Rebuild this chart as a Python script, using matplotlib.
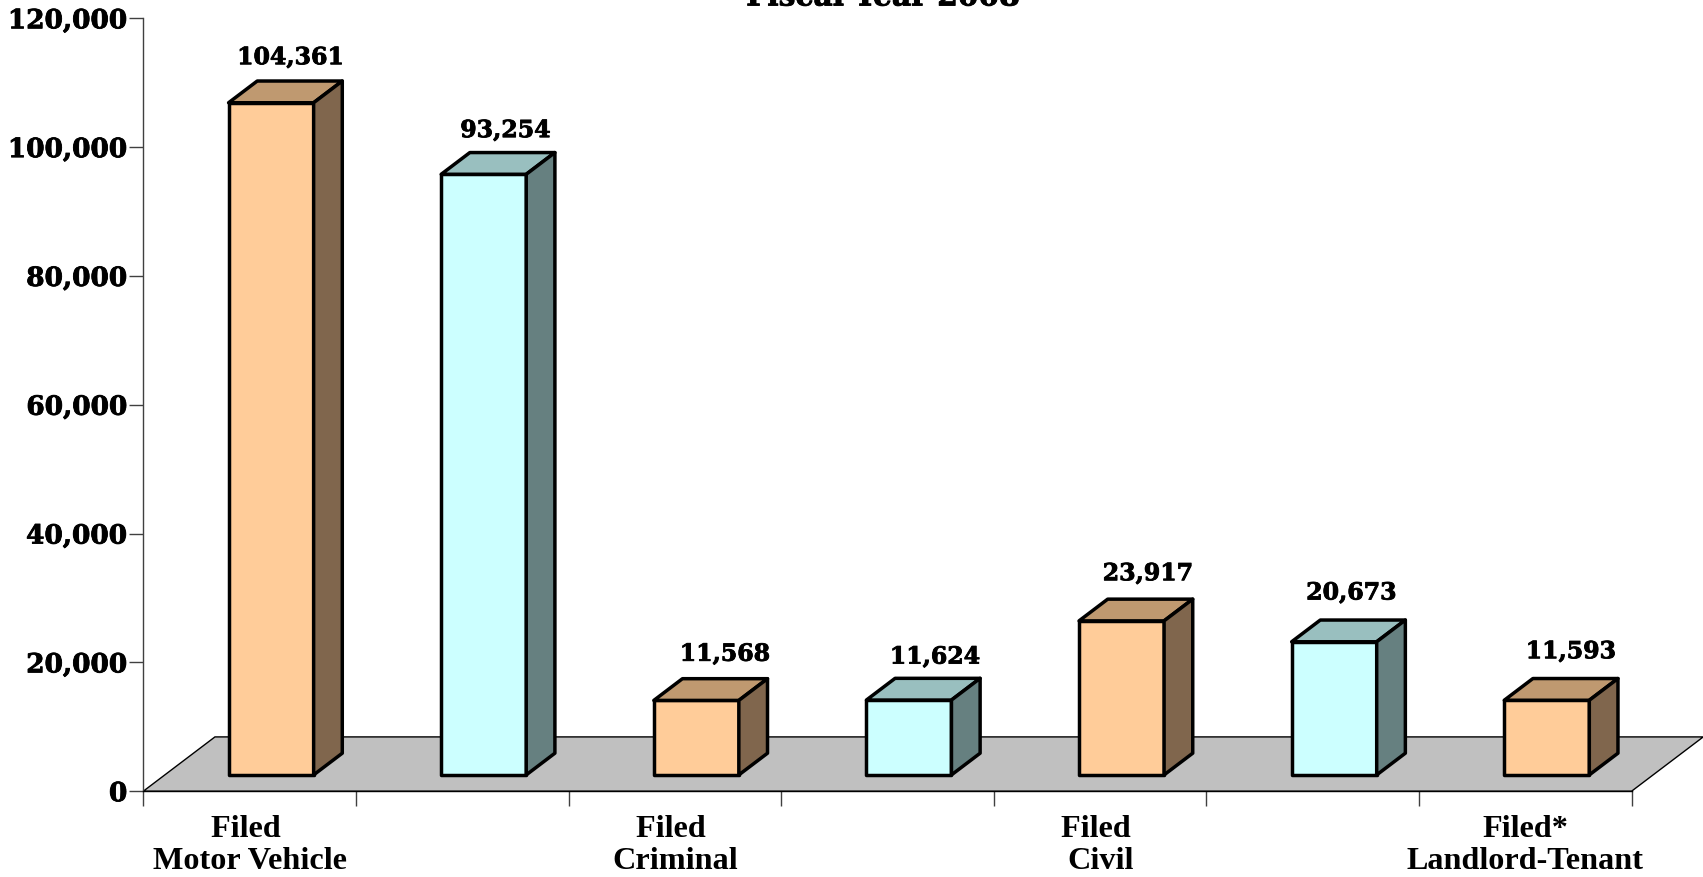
import matplotlib
matplotlib.use('Agg')
import matplotlib.pyplot as plt
import matplotlib.patheffects as pe
from matplotlib.patches import Polygon

W, H = 1703, 877

values = [104361, 93254, 11568, 11624, 23917, 20673, 11593]
bar_labels = ['104,361', '93,254', '11,568', '11,624', '23,917', '20,673', '11,593']
y_ticks = [0, 20000, 40000, 60000, 80000, 100000, 120000]
y_tick_labels = ['0', '20,000', '40,000', '60,000', '80,000', '100,000', '120,000']
cat_labels = ['Filed \nMotor Vehicle', 'Filed \nCriminal', 'Filed \nCivil', 'Filed*\nLandlord-Tenant']
cat_pos = [0.5, 2.5, 4.5, 6.5]
title = 'Fiscal Year 2008'

# front, top, side
orange = ('#ffcc99', '#bf9970', '#80664d')
cyan = ('#ccffff', '#99bfbf', '#668080')

# the labels sit a bit off the bar centres in the original (points)
shift_x = [-6.6, -5.0, 0.0, -1.8, -1.6, -8.2, -3.3]
shift_y = [-1.5, -2.5, -0.7, -3.0, 0.0, 1.2, 1.0]

fig = plt.figure(figsize=[W / 100, H / 100], dpi=100)
x0, x1, ytop, y0 = 143.3, 1631.6, 18.3, 791.2
ax = fig.add_axes([x0 / W, 1 - y0 / H, (x1 - x0) / W, (y0 - ytop) / H])
ax.set_xlim(0, 7)
ax.set_ylim(0, 120000)
ax.patch.set_visible(False)

# depth of the floor in data units
depth_x = 0.337
depth_y = 8430
f1, f2 = 0.3, 0.7
bw = 0.4

heavy = [pe.withStroke(linewidth=0.6, foreground='black')]

ax.add_patch(Polygon([(0, 0), (7, 0), (7 + depth_x, depth_y), (depth_x, depth_y)],
                     closed=True, fc='#c0c0c0', ec='black', lw=1, clip_on=False, zorder=1))

for i, v in enumerate(values):
    front, top, side = orange if i % 2 == 0 else cyan
    xl = i + 0.5 - bw / 2 + depth_x * f1
    xr = xl + bw
    yb = depth_y * f1
    yt = yb + v
    dx = depth_x * (f2 - f1)
    dy = depth_y * (f2 - f1)
    style = dict(closed=True, ec='black', lw=2.5, joinstyle='round', clip_on=False, zorder=3)
    ax.add_patch(Polygon([(xl, yb), (xr, yb), (xr, yt), (xl, yt)], fc=front, **style))
    ax.add_patch(Polygon([(xl, yt), (xr, yt), (xr + dx, yt + dy), (xl + dx, yt + dy)], fc=top, **style))
    ax.add_patch(Polygon([(xr, yb), (xr + dx, yb + dy), (xr + dx, yt + dy), (xr, yt)], fc=side, **style))
    ax.annotate(bar_labels[i], xy=(xl + bw / 2 + dx, yt + dy), xytext=(shift_x[i], 10 + shift_y[i]),
                textcoords='offset points', ha='center', va='bottom',
                family='DejaVu Serif', fontweight='bold', fontsize=17, clip_on=False, zorder=4,
                path_effects=heavy)

for s in ['top', 'right']:
    ax.spines[s].set_visible(False)
ax.spines['left'].set_color('#404040')
ax.spines['left'].set_linewidth(1)
ax.spines['bottom'].set_linewidth(1)

ax.set_yticks(y_ticks)
ax.set_yticklabels(y_tick_labels, family='DejaVu Serif', fontweight='bold', fontsize=19,
                   path_effects=heavy)
ax.tick_params(axis='y', length=10, width=1, pad=1.5, color='#404040')
ax.set_xticks(range(8))
ax.set_xticklabels([])
ax.tick_params(axis='x', length=11, width=1, color='#404040')

for p, s in zip(cat_pos, cat_labels):
    ax.annotate(s, xy=(p, 0), xytext=(0, -17), textcoords='offset points', ha='center', va='top',
                family='Liberation Serif', fontweight='bold', fontsize=23.2, linespacing=1.15,
                annotation_clip=False)

fig.text(883 / W, 1 - 5.5 / H, title, ha='center', va='baseline',
         family='DejaVu Serif', fontweight='bold', fontsize=21.4, path_effects=heavy)

fig.savefig('out.png', dpi=100)
